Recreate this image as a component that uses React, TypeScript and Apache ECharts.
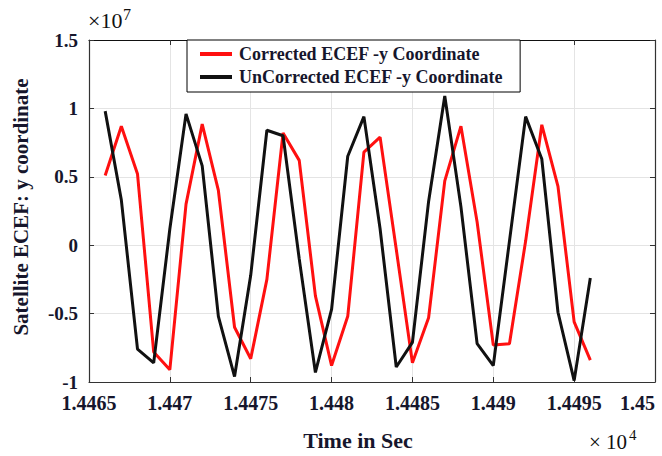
import React, { useEffect, useRef } from "react";
import * as echarts from "echarts";

// Time in seconds (axis labels shown in units of 10^4 s)
const timeSec = [
  14466, 14467, 14468, 14469, 14470, 14471, 14472, 14473, 14474, 14475, 14476,
  14477, 14478, 14479, 14480, 14481, 14482, 14483, 14484, 14485, 14486, 14487,
  14488, 14489, 14490, 14491, 14492, 14493, 14494, 14495, 14496,
];

// y coordinate in units of 10^7 m
const correctedY = [
  0.51, 0.87, 0.52, -0.78, -0.91, 0.3, 0.885, 0.4, -0.6, -0.83, -0.25, 0.82,
  0.62, -0.37, -0.88, -0.52, 0.68, 0.79, -0.03, -0.86, -0.53, 0.47, 0.87, 0.17,
  -0.73, -0.72, 0.03, 0.88, 0.43, -0.56, -0.84,
];

const uncorrectedY = [
  0.98, 0.33, -0.76, -0.86, 0.12, 0.96, 0.58, -0.52, -0.96, -0.22, 0.84, 0.8,
  -0.1, -0.93, -0.47, 0.65, 0.94, 0.12, -0.89, -0.71, 0.32, 1.09, 0.28, -0.72,
  -0.88, 0.03, 0.94, 0.63, -0.49, -0.99, -0.24,
];

const seriesNames = [
  "Corrected ECEF -y Coordinate",
  "UnCorrected ECEF -y Coordinate",
];

const xMin = 14465;
const xMax = 14500;
const xStep = 5;
const yMin = -1;
const yMax = 1.5;
const yStep = 0.5;

const SERIF = "'Liberation Serif', 'Times New Roman', serif";
const TEXT = "#16162c";

export default function App() {
  const ref = useRef<HTMLDivElement>(null);

  useEffect(() => {
    if (!ref.current) return;
    const chart = echarts.init(ref.current, null, { renderer: "svg" });
    const pair = (arr: number[]) => timeSec.map((t, i) => [t, arr[i]]);
    const axisLineStyle = { color: "#333", width: 1.2 };
    const tick = { show: true, inside: true, length: 5, lineStyle: { color: "#333" } };
    chart.setOption({
      animation: false,
      backgroundColor: "#ffffff",
      grid: { left: 89, right: 7, top: 40, bottom: 69, containLabel: false },
      legend: {
        orient: "vertical",
        left: 187,
        top: 40,
        padding: [4, 17, 5, 13],
        itemGap: 3,
        itemWidth: 32,
        itemHeight: 4,
        backgroundColor: "#ffffff",
        borderColor: "#000",
        borderWidth: 1,
        borderRadius: 0,
        data: [
          { name: seriesNames[0], icon: "rect" },
          { name: seriesNames[1], icon: "rect" },
        ],
        textStyle: {
          fontFamily: SERIF,
          fontWeight: "bold",
          fontSize: 18,
          lineHeight: 20,
          color: TEXT,
          padding: [0, 0, 0, 2],
        },
      },
      xAxis: [
        {
          type: "value",
          min: xMin,
          max: xMax,
          interval: xStep,
          name: "Time in Sec",
          nameLocation: "middle",
          nameGap: 47,
          nameTextStyle: {
            fontFamily: SERIF,
            fontWeight: "bold",
            fontSize: 22,
            color: TEXT,
            padding: [0, 28, 0, 0],
          },
          axisLine: { show: true, onZero: false, lineStyle: axisLineStyle },
          axisTick: tick,
          axisLabel: {
            margin: 11,
            fontFamily: SERIF,
            fontWeight: "bold",
            fontSize: 20,
            color: TEXT,
            alignMaxLabel: "right",
            formatter: (v: number) => String(+(v / 1e4).toFixed(4)),
          },
          splitLine: { show: true, lineStyle: { color: "#e4e4e4", width: 1 } },
        },
        {
          type: "value",
          position: "top",
          min: xMin,
          max: xMax,
          interval: xStep,
          axisLine: { show: true, onZero: false, lineStyle: { color: "#111", width: 1.2 } },
          axisTick: tick,
          axisLabel: { show: false },
          splitLine: { show: false },
        },
      ],
      yAxis: [
        {
          type: "value",
          min: yMin,
          max: yMax,
          interval: yStep,
          name: "Satellite ECEF: y coordinate",
          nameLocation: "middle",
          nameGap: 58,
          nameTextStyle: {
            fontFamily: SERIF,
            fontWeight: "bold",
            fontSize: 21,
            color: TEXT,
            padding: [0, 0, 0, 8],
          },
          axisLine: { show: true, onZero: false, lineStyle: axisLineStyle },
          axisTick: tick,
          axisLabel: {
            margin: 11,
            fontFamily: SERIF,
            fontWeight: "bold",
            fontSize: 19,
            color: TEXT,
          },
          splitLine: { show: true, lineStyle: { color: "#e4e4e4", width: 1 } },
        },
        {
          type: "value",
          position: "right",
          min: yMin,
          max: yMax,
          interval: yStep,
          axisLine: { show: true, onZero: false, lineStyle: axisLineStyle },
          axisTick: tick,
          axisLabel: { show: false },
          splitLine: { show: false },
        },
      ],
      series: [
        {
          name: seriesNames[0],
          type: "line",
          data: pair(correctedY),
          showSymbol: false,
          symbol: "none",
          color: "#ff1010",
          lineStyle: { color: "#ff1010", width: 3 },
          z: 2,
        },
        {
          name: seriesNames[1],
          type: "line",
          data: pair(uncorrectedY),
          showSymbol: false,
          symbol: "none",
          color: "#111111",
          lineStyle: { color: "#111111", width: 3 },
          z: 3,
        },
      ],
      graphic: [
        {
          type: "text",
          x: 88,
          y: 9,
          style: { text: "×10", font: `22px ${SERIF}`, fill: "#111" },
        },
        {
          type: "text",
          x: 123,
          y: 6,
          style: { text: "7", font: `16px ${SERIF}`, fill: "#111" },
        },
        {
          type: "text",
          x: 589,
          y: 431,
          style: { text: "× 10", font: `21px ${SERIF}`, fill: "#111" },
        },
        {
          type: "text",
          x: 629,
          y: 427,
          style: { text: "4", font: `15px ${SERIF}`, fill: "#111" },
        },
      ],
    });
    return () => chart.dispose();
  }, []);

  return (
    <div
      ref={ref}
      style={{ width: 662, height: 456, position: "absolute", left: 0, top: 0 }}
    />
  );
}
